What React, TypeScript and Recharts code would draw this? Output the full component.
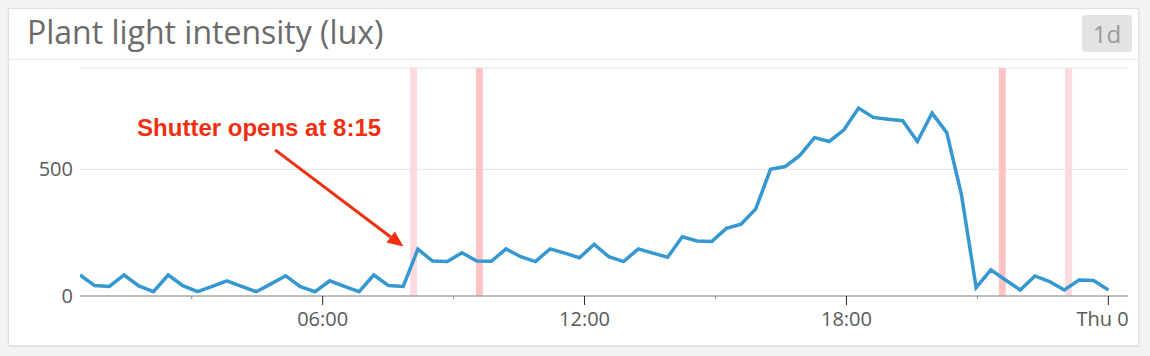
import React from "react";
import {
  LineChart,
  Line,
  XAxis,
  YAxis,
  CartesianGrid,
  ReferenceArea,
  ReferenceLine,
} from "recharts";

// Time of the first and last sample, in hours since midnight.
const START_HOUR = 0.44;
const END_HOUR = 24;

// Light readings (lux), one per sample, left to right.
const LUX = [
  83, 41, 38, 83, 40, 17, 83, 41, 17, 38, 60, 38, 17, 48, 80, 37, 17, 60, 38, 17,
  83, 41, 38, 185, 138, 136, 171, 138, 137, 186, 155, 136, 186, 169, 151, 204,
  155, 136, 186, 169, 153, 234, 217, 215, 267, 283, 344, 500, 511, 555, 625, 610,
  656, 742, 705, 698, 692, 610, 722, 645, 400, 33, 103, 63, 24, 79, 57, 24, 63,
  61, 24,
];

const TICK_HOURS = [3, 6, 9, 12, 15, 18, 21, 24];
const TICK_LABELS = ["", "06:00", "", "12:00", "", "18:00", "", "Thu 02"];
const Y_TICKS = [0, 500];

// Event overlays (hours) and their kind.
const EVENT_STARTS = [8.0, 9.51, 21.49, 23.01];
const EVENT_KINDS = ["warn", "error", "error", "warn"];
const EVENT_LENGTH = 0.16;

const NOTE_TEXT = "Shutter opens at 8:15";
const NOTE_FROM = { t: 4.91, v: 577 };
const NOTE_TO = { t: 7.85, v: 195 };

const EVENT_COLORS: Record<string, string> = {
  warn: "#fcdadd",
  error: "#fcc3c5",
};

const data = LUX.map((v, i) => ({
  t: START_HOUR + (i * (END_HOUR - START_HOUR)) / (LUX.length - 1),
  lux: v,
}));

const FONT = "'Open Sans', 'DejaVu Sans', sans-serif";
const RED = "#ef2f10";

function TimeTick({ x, y, payload }: any) {
  const idx = TICK_HOURS.indexOf(payload.value);
  const label = TICK_LABELS[idx] || "";
  const major = label !== "";
  return (
    <g>
      <line
        x1={x}
        x2={x}
        y1={y}
        y2={y + (major ? 9 : 3)}
        stroke={major ? "#222" : "#888"}
        strokeWidth={1}
      />
      {major && (
        <text x={x} y={y + 30} textAnchor="middle" fill="#5a5a5a" fontSize={20} fontFamily={FONT}>
          {label}
        </text>
      )}
    </g>
  );
}

function NoteArrow(props: any) {
  const { x1, y1, x2, y2 } = props;
  const ang = Math.atan2(y2 - y1, x2 - x1);
  const head = 16;
  const half = 7;
  const bx = x2 - head * Math.cos(ang);
  const by = y2 - head * Math.sin(ang);
  const px = -Math.sin(ang) * half;
  const py = Math.cos(ang) * half;
  return (
    <g>
      <line x1={x1} y1={y1} x2={bx} y2={by} stroke={RED} strokeWidth={3} />
      <polygon points={`${x2},${y2} ${bx + px},${by + py} ${bx - px},${by - py}`} fill={RED} />
      <text
        x={x1 - 138}
        y={y1 - 14}
        fill={RED}
        fontSize={24}
        fontWeight="bold"
        fontFamily="'Liberation Sans', Arial, sans-serif"
      >
        {NOTE_TEXT}
      </text>
    </g>
  );
}

export default function App() {
  return (
    <div
      style={{
        position: "fixed",
        left: 0,
        top: 0,
        width: 1150,
        height: 356,
        background: "#f3f3f3",
        overflow: "hidden",
        fontFamily: FONT,
      }}
    >
      <div
        style={{
          position: "absolute",
          left: 8,
          top: 8,
          width: 1131,
          height: 338,
          boxSizing: "border-box",
          background: "#fff",
          border: "1px solid #e0e0e0",
          boxShadow: "0 1px 2px rgba(0,0,0,0.08)",
        }}
      />
      <div
        style={{
          position: "absolute",
          left: 27,
          top: 10,
          fontSize: 32,
          lineHeight: "normal",
          color: "#6b6b6b",
          whiteSpace: "nowrap",
        }}
      >
        Plant light intensity (lux)
      </div>
      <div
        style={{
          position: "absolute",
          left: 1082,
          top: 15,
          width: 50,
          height: 37,
          borderRadius: 4,
          background: "#e3e3e3",
          color: "#999",
          fontSize: 24,
          display: "flex",
          alignItems: "center",
          justifyContent: "center",
        }}
      >
        1d
      </div>
      <div
        style={{
          position: "absolute",
          left: 9,
          top: 59,
          width: 1129,
          height: 1,
          background: "#e8e8e8",
        }}
      />
      <div style={{ position: "absolute", left: 9, top: 60, width: 1119, height: 285, overflow: "hidden" }}>
        <LineChart
          width={1119}
          height={285}
          data={data}
          margin={{ top: 8, right: 0, left: 0, bottom: 0 }}
          style={{ fontFamily: FONT }}
        >
          <CartesianGrid vertical={false} stroke="#e2e2e2" />
          {EVENT_STARTS.map((s, i) => (
            <ReferenceArea
              key={i}
              x1={s}
              x2={s + EVENT_LENGTH}
              fill={EVENT_COLORS[EVENT_KINDS[i]]}
              fillOpacity={1}
              stroke="none"
            />
          ))}
          <XAxis
            dataKey="t"
            type="number"
            domain={[START_HOUR, 24.45]}
            ticks={TICK_HOURS}
            interval={0}
            allowDataOverflow
            height={49}
            tickSize={0}
            tickMargin={0}
            tickLine={false}
            axisLine={{ stroke: "#8a8a8a" }}
            tick={<TimeTick />}
          />
          <YAxis
            type="number"
            domain={[0, 900]}
            ticks={Y_TICKS}
            width={71}
            axisLine={false}
            tickLine={false}
            tickSize={0}
            tickMargin={7}
            tick={{ fontSize: 20, fill: "#5a5a5a", fontFamily: FONT }}
          />
          <Line
            type="linear"
            dataKey="lux"
            stroke="#3598d0"
            strokeWidth={3.5}
            dot={false}
            activeDot={false}
            isAnimationActive={false}
          />
          <ReferenceLine
            segment={[
              { x: NOTE_FROM.t, y: NOTE_FROM.v },
              { x: NOTE_TO.t, y: NOTE_TO.v },
            ]}
            ifOverflow="visible"
            shape={(p: any) => <NoteArrow {...p} />}
          />
        </LineChart>
      </div>
    </div>
  );
}
